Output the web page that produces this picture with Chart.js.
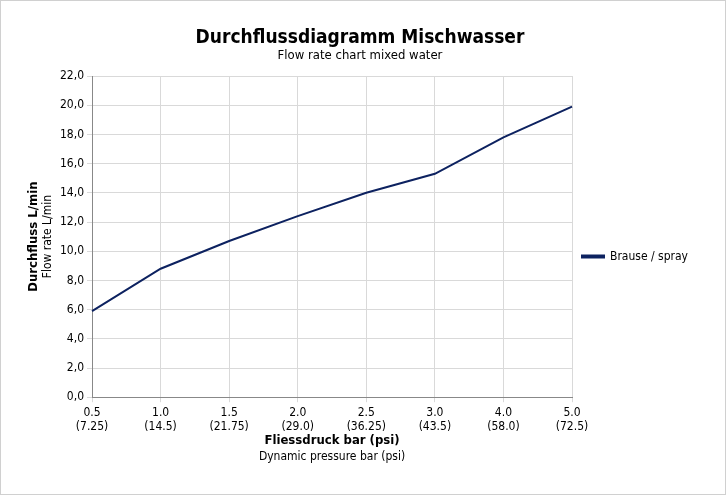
<!DOCTYPE html>
<html><head><meta charset="utf-8">
<script src="https://cdn.jsdelivr.net/npm/chart.js@4"></script>
<style>html,body{margin:0;padding:0;background:#fff}#w{width:726px;height:495px;position:relative}</style>
</head><body><div id="w"><canvas id="c"></canvas></div>
<script>
const categories = [["0.5","(7.25)"],["1.0","(14.5)"],["1.5","(21.75)"],["2.0","(29.0)"],["2.5","(36.25)"],["3.0","(43.5)"],["4.0","(58.0)"],["5.0","(72.5)"]];
const sprayValues = [5.9, 8.8, 10.7, 12.4, 14.0, 15.3, 17.8, 19.9];
const seriesName = "Brause / spray";
const F = "'DejaVu Sans Condensed','Liberation Sans Narrow',sans-serif";
const titles = {
  id:'titles',
  afterDraw(c){
    const x=c.ctx, a=c.chartArea;
    x.save(); x.fillStyle='#000'; x.textAlign='center'; x.textBaseline='middle';
    const cx=(a.left+a.right)/2;
    x.font="bold 19px "+F; x.fillText("Durchflussdiagramm Mischwasser",360,38);
    x.font="13px "+F; x.fillText("Flow rate chart mixed water",360,56);
    x.font="bold 13px "+F; x.fillText("Fliessdruck bar (psi)",cx,441);
    x.font="12px "+F; x.fillText("Dynamic pressure bar (psi)",cx,457);
    x.translate(34,(a.top+a.bottom)/2); x.rotate(-Math.PI/2);
    x.font="bold 13px "+F; x.fillText("Durchfluss L/min",0,0);
    x.font="12px "+F; x.fillText("Flow rate L/min",0,14);
    x.restore();
    x.save(); x.strokeStyle='#d0d0d0'; x.strokeRect(0.5,0.5,725,494); x.restore();
  }
};
new Chart(document.getElementById('c'),{
  type:'line',
  data:{labels:categories,datasets:[{label:seriesName,data:sprayValues,borderColor:'#0d2260',backgroundColor:'#0d2260',borderWidth:2,pointRadius:0,tension:0}]},
  options:{responsive:true,maintainAspectRatio:false,animation:false,
    layout:{padding:{top:76,left:57,right:28,bottom:58}},
    plugins:{title:{display:false},tooltip:{enabled:false},
      legend:{position:'right',labels:{boxWidth:22,boxHeight:2,font:{family:F,size:12},color:'#000',padding:10}}},
    scales:{
      x:{offset:false,grid:{color:'#d9d9d9',drawTicks:true,tickLength:5},border:{color:'#888'},ticks:{font:{family:F,size:12},color:'#000',maxRotation:0,autoSkip:false}},
      y:{min:0,max:22,grid:{color:'#d9d9d9',tickLength:5},border:{color:'#888'},ticks:{stepSize:2,font:{family:F,size:12},color:'#000',callback:v=>v.toFixed(1).replace('.',',')}}
    }},
  plugins:[titles]
});
</script></body></html>
